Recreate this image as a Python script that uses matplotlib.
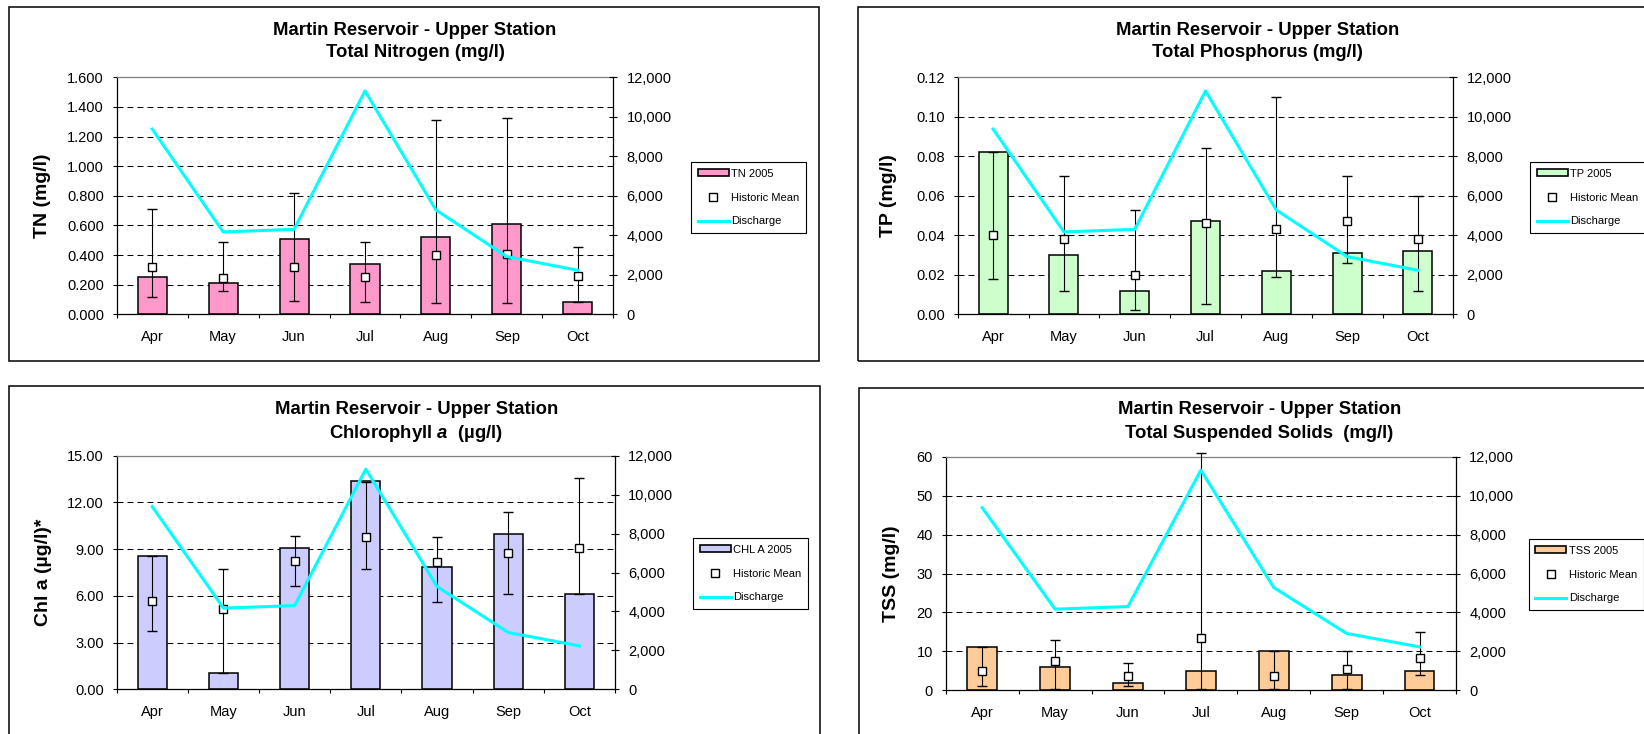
import matplotlib
matplotlib.use("Agg")
import matplotlib.pyplot as plt
from matplotlib.patches import Rectangle, Patch
from matplotlib.lines import Line2D
from matplotlib.ticker import FuncFormatter
import numpy as np

plt.rcParams['font.family'] = ['Liberation Sans', 'DejaVu Sans']
plt.rcParams['mathtext.fontset'] = 'custom'
plt.rcParams['mathtext.it'] = 'Liberation Sans:italic:bold'
plt.rcParams['mathtext.rm'] = 'Liberation Sans:bold'

# Data
months = ['Apr', 'May', 'Jun', 'Jul', 'Aug', 'Sep', 'Oct']
discharge = [9380, 4170, 4300, 11310, 5280, 2920, 2230]

tn_2005 = [0.25, 0.21, 0.51, 0.34, 0.52, 0.61, 0.08]
tn_mean = [0.32, 0.245, 0.32, 0.25, 0.40, 0.405, 0.26]
tn_max = [0.71, 0.485, 0.82, 0.485, 1.31, 1.325, 0.455]
tn_min = [0.12, 0.155, 0.09, 0.08, 0.075, 0.075, 0.08]

tp_2005 = [0.082, 0.030, 0.012, 0.047, 0.022, 0.031, 0.032]
tp_mean = [0.040, 0.038, 0.020, 0.046, 0.043, 0.047, 0.038]
tp_max = [0.082, 0.070, 0.053, 0.084, 0.110, 0.070, 0.060]
tp_min = [0.018, 0.012, 0.002, 0.005, 0.019, 0.026, 0.012]

chl_2005 = [8.55, 1.05, 9.07, 13.35, 7.83, 9.97, 6.12]
chl_mean = [5.65, 5.16, 8.26, 9.78, 8.17, 8.75, 9.05]
chl_max = [8.55, 7.7, 9.87, 13.3, 9.8, 11.4, 13.6]
chl_min = [3.75, 1.05, 6.66, 7.7, 5.6, 6.12, 6.12]

tss_2005 = [11, 6, 2, 5, 10, 4, 5]
tss_mean = [4.9, 7.6, 3.6, 13.5, 3.6, 5.5, 8.2]
tss_max = [11, 13, 7, 61, 10, 10, 15]
tss_min = [1.0, 0.3, 1.0, 0.3, 0.3, 0.3, 4.0]

W, H = 1644, 734
OUTPUT_IMAGE = "out.png"


def fx(x):
    return x / W


def fy(y):
    return 1 - y / H


# pixel layout of each chart: axes (l, r, t, b), frame (l, t, r, b), title x/y, ylabel x, legend corner
panels = [
    dict(name='Total Nitrogen (mg/l)', ylabel='TN (mg/l)', leg='TN 2005', color='#FF99CC',
         bars=tn_2005, mean=tn_mean, hi=tn_max, lo=tn_min, ymax=1.6, ystep=0.2, fmt='{:.3f}',
         axes=(116.7, 613.3, 77.3, 314.3), frame=(9, 7.3, 818.5, 361),
         tx=415, ty=(30.7, 52.7), lx=42, legpos=(691, 162)),
    dict(name='Total Phosphorus (mg/l)', ylabel='TP (mg/l)', leg='TP 2005', color='#CCFFCC',
         bars=tp_2005, mean=tp_mean, hi=tp_max, lo=tp_min, ymax=0.12, ystep=0.02, fmt='{:.2f}',
         axes=(957.7, 1453.3, 77.3, 314.3), frame=(858, 7.3, 1668, 361),
         tx=1257.5, ty=(30.7, 52.7), lx=888, legpos=(1530, 162)),
    dict(name='Chlorophyll $a$  (µg/l)', ylabel='Chl a (µg/l)*', leg='CHL A 2005', color='#CCCCFF',
         bars=chl_2005, mean=chl_mean, hi=chl_max, lo=chl_min, ymax=15, ystep=3, fmt='{:.2f}',
         axes=(116.7, 615, 455.7, 689.3), frame=(9, 386.3, 820, 745),
         tx=416.5, ty=(410, 433.3), lx=43, legpos=(693, 538)),
    dict(name='Total Suspended Solids  (mg/l)', ylabel='TSS (mg/l)', leg='TSS 2005', color='#FFCC99',
         bars=tss_2005, mean=tss_mean, hi=tss_max, lo=tss_min, ymax=60, ystep=10, fmt='{:.0f}',
         axes=(945.7, 1456, 456.7, 690.3), frame=(859.3, 387.7, 1670, 745),
         tx=1259.5, ty=(410, 433), lx=891, legpos=(1528.7, 539)),
]

fig = plt.figure(figsize=(W / 100, H / 100), dpi=100, facecolor='white')
x = np.arange(len(months))

for p in panels:
    # chart area frame
    fl, ft, fr, fb = p['frame']
    fig.add_artist(Rectangle((fx(fl), fy(fb)), (fr - fl) / W, (fb - ft) / H,
                             transform=fig.transFigure, fill=False, edgecolor='black', lw=1.1))

    l, r, t, b = p['axes']
    ax = fig.add_axes([l / W, 1 - b / H, (r - l) / W, (b - t) / H])
    ax.set_facecolor('none')

    yticks = np.arange(0, p['ymax'] + p['ystep'] / 2, p['ystep'])
    for v in yticks[1:-1]:
        ax.axhline(v, color='black', lw=0.75, dashes=(5.7, 3.9), zorder=1)

    ax.bar(x, p['bars'], width=0.41, color=p['color'], edgecolor='black', linewidth=1.1, zorder=2)

    mean = np.array(p['mean'])
    yerr = [mean - np.array(p['lo']), np.array(p['hi']) - mean]
    eb = ax.errorbar(x, mean, yerr=yerr, fmt='s', mfc='white', mec='black', ms=5.5, mew=1,
                     ecolor='black', elinewidth=0.8, capsize=3.5, capthick=0.8, zorder=4)
    eb[0].set_clip_on(False)
    for art in list(eb[1]) + list(eb[2]):
        art.set_clip_on(False)

    ax.set_xlim(-0.5, 6.5)
    ax.set_ylim(0, p['ymax'])
    ax.set_yticks(yticks)
    ax.yaxis.set_major_formatter(FuncFormatter(lambda v, pos, f=p['fmt']: f.format(v)))
    ax.set_xticks(x)
    ax.set_xticklabels(months)
    ax.set_xticks(np.arange(-0.5, 7, 1), minor=True)
    ax.tick_params(axis='x', which='major', length=0, pad=11.5, labelsize=10.5)
    ax.tick_params(axis='x', which='minor', direction='out', length=3, width=0.8)
    ax.tick_params(axis='y', direction='out', length=3, width=0.8, pad=6.2, labelsize=10.5)

    ax.spines['right'].set_visible(False)
    ax.spines['top'].set_color('#808080')
    ax.spines['top'].set_linewidth(0.9)
    ax.spines['left'].set_linewidth(0.9)
    ax.spines['bottom'].set_linewidth(0.9)

    # discharge on the secondary axis
    ax2 = ax.twinx()
    ax2.plot(x, discharge, color='#00FFFF', lw=2.2, zorder=5)
    ax2.set_ylim(0, 12000)
    ax2.set_yticks(np.arange(0, 12001, 2000))
    ax2.yaxis.set_major_formatter(FuncFormatter(lambda v, pos: '{:,.0f}'.format(v)))
    ax2.tick_params(axis='y', direction='inout', length=5.8, width=0.8, pad=6.7, labelsize=10.5)
    for s in ['top', 'left', 'bottom']:
        ax2.spines[s].set_visible(False)
    ax2.spines['right'].set_linewidth(0.9)

    # titles and axis label
    fig.text(fx(p['tx']), fy(p['ty'][0]), 'Martin Reservoir - Upper Station',
             ha='center', va='center', fontsize=13.3, fontweight='bold')
    fig.text(fx(p['tx']), fy(p['ty'][1]), p['name'],
             ha='center', va='center', fontsize=13.3, fontweight='bold')
    fig.text(fx(p['lx']), fy((t + b) / 2), p['ylabel'], rotation=90,
             ha='center', va='center', fontsize=14, fontweight='bold')

    handles = [Patch(facecolor=p['color'], edgecolor='black', lw=1.2),
               Line2D([], [], ls='none', marker='s', mfc='white', mec='black', ms=5.5, mew=1),
               Line2D([], [], color='#00FFFF', lw=2.2)]
    leg = ax2.legend(handles, [p['leg'], 'Historic Mean', 'Discharge'], loc='upper left',
                     bbox_to_anchor=(fx(p['legpos'][0]), fy(p['legpos'][1])),
                     bbox_transform=fig.transFigure, borderaxespad=0, fancybox=False,
                     edgecolor='black', framealpha=1, fontsize=8, handlelength=2.8,
                     handleheight=0.55, handletextpad=0.2, labelspacing=1.25, borderpad=0.6)
    leg.get_frame().set_linewidth(0.8)

fig.savefig(OUTPUT_IMAGE, dpi=100, facecolor='white')
